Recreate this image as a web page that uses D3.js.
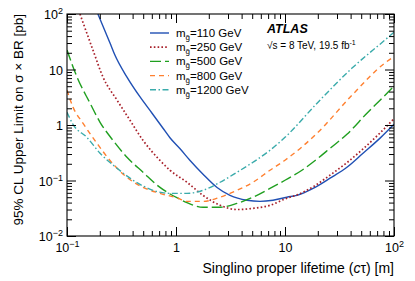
<!DOCTYPE html>
<html><head><meta charset="utf-8">
<script src="https://cdn.jsdelivr.net/npm/d3@7"></script>
<style>
html,body{margin:0;padding:0;background:#fff;}
text{font-family:"Liberation Sans",Arial,Helvetica,sans-serif;}
</style></head>
<body><svg id="c" width="415" height="281"></svg>
<script>
// ---- data ----
const massLabels = ["110", "250", "500", "800", "1200"];

const ctau110 = [0.192,0.248,0.275,0.355,0.468,0.603,0.76,0.88,1.09,1.34,1.77,2.38,3.13,4.48,5.9,7.76,10.4,12.9,18.1,25.9,37,52,74.5,100];
const limit110 = [100,30,18.2,7.3,3.2,1.63,0.875,0.59,0.373,0.232,0.13,0.075,0.054,0.044,0.042,0.044,0.050,0.054,0.072,0.110,0.173,0.31,0.58,1.03];

const ctau250 = [0.1315,0.173,0.214,0.288,0.378,0.498,0.713,0.881,1.26,1.77,2.54,3.63,5.08,7.28,10.4,12.9,18.1,25.9,37,52,74.5,100];
const limit250 = [100,22.4,7.3,2.8,1.22,0.53,0.23,0.153,0.093,0.054,0.0357,0.030,0.0315,0.0357,0.048,0.055,0.077,0.125,0.21,0.37,0.72,1.3];

const ctau500 = [0.1,0.1236,0.1626,0.201,0.264,0.355,0.498,0.713,1.04,1.26,1.77,2.54,3.63,5.08,7.28,10,14.3,20.1,25.9,37,56.5,74.5,100];
const limit500 = [22.4,7.3,2.48,1.12,0.53,0.262,0.141,0.075,0.048,0.040,0.033,0.033,0.0387,0.050,0.072,0.101,0.153,0.252,0.38,0.68,1.63,2.8,5.0];

const ctau800 = [0.1,0.1135,0.140,0.188,0.248,0.355,0.498,0.713,1.04,1.26,1.77,2.54,3.63,5.08,7.28,10,20.1,41.2,82.6,100];
const limit800 = [4.25,2.1,1.08,0.47,0.23,0.114,0.075,0.0587,0.048,0.042,0.042,0.050,0.0665,0.093,0.153,0.232,0.74,3.45,13.1,17];

const ctau1200 = [0.1,0.1135,0.152,0.201,0.288,0.404,0.616,0.881,1.26,1.77,2.54,3.63,5.08,7.28,10,20.1,41.2,82.6,100];
const limit1200 = [1.70,1.03,0.60,0.31,0.166,0.101,0.0665,0.0587,0.0587,0.0665,0.093,0.141,0.213,0.35,0.60,2.58,10.6,34,47];

const xMajor = [0.1, 1, 10, 100];
const xMajorLabels = [["10","-1"],["1",""],["10",""],["10","2"]];
const yMajor = [0.01, 0.1, 1, 10, 100];
const yMajorLabels = [["10","-2"],["10","-1"],["1",""],["10",""],["10","2"]];

// ---- layout ----
const L = 67, R = 394, T = 14, B = 236;
const svg = d3.select("#c");
const x = d3.scaleLog().domain([0.1, 100]).range([L, R]);
const y = d3.scaleLog().domain([0.01, 100]).range([B, T]);

function minors(lo, hi) {
  const out = [];
  for (let e = Math.log10(lo); e < Math.log10(hi); e++) {
    for (let k = 2; k <= 9; k++) out.push(k * Math.pow(10, e));
  }
  return out;
}
const xMinor = minors(0.1, 100), yMinor = minors(0.01, 100);

const series = [
  {m: massLabels[0], xs: ctau110, ys: limit110, color: "#2050b4", dash: null, w: 1.4},
  {m: massLabels[1], xs: ctau250, ys: limit250, color: "#a8202a", dash: "1.6,2.2", w: 1.7},
  {m: massLabels[2], xs: ctau500, ys: limit500, color: "#1f9f1f", dash: "11,4", w: 1.4},
  {m: massLabels[3], xs: ctau800, ys: limit800, color: "#ff8030", dash: "5,4", w: 1.4},
  {m: massLabels[4], xs: ctau1200, ys: limit1200, color: "#3aabab", dash: "6,2.5,1.5,2.5", w: 1.4}
];

svg.append("defs").append("clipPath").attr("id", "clip")
  .append("rect").attr("x", L).attr("y", T).attr("width", R - L).attr("height", B - T);

const line = d3.line().x(d => x(d[0])).y(d => y(d[1])).curve(d3.curveMonotoneX);
const g = svg.append("g").attr("clip-path", "url(#clip)");
series.forEach(s => {
  g.append("path")
    .datum(s.xs.map((v, i) => [v, s.ys[i]]))
    .attr("d", line)
    .attr("fill", "none")
    .attr("stroke", s.color)
    .attr("stroke-width", s.w)
    .attr("stroke-dasharray", s.dash);
});

// ---- axes (ticks inside) ----
function styleAxis(sel) {
  sel.select(".domain").remove();
  sel.selectAll(".tick line").attr("stroke", "#000").attr("stroke-width", 1);
}
function axisPair(make, scale, pos, maj, mn, majLen, minLen) {
  const a1 = svg.append("g").attr("transform", pos)
    .call(make(scale).tickValues(maj).tickSize(-majLen).tickFormat(""));
  const a2 = svg.append("g").attr("transform", pos)
    .call(make(scale).tickValues(mn).tickSize(-minLen).tickFormat(""));
  styleAxis(a1); styleAxis(a2);
  return a1;
}
axisPair(d3.axisBottom, x, `translate(0,${B})`, xMajor, xMinor, 9, 5);
axisPair(d3.axisTop, x, `translate(0,${T})`, xMajor, xMinor, 9, 5);
axisPair(d3.axisLeft, y, `translate(${L},0)`, yMajor, yMinor, 9, 5);
axisPair(d3.axisRight, y, `translate(${R},0)`, yMajor, yMinor, 9, 5);

svg.append("rect").attr("x", L).attr("y", T).attr("width", R - L).attr("height", B - T)
  .attr("fill", "none").attr("stroke", "#000").attr("stroke-width", 1.1);

// tick labels
const xl = svg.append("g").attr("transform", `translate(0,${B})`)
  .call(d3.axisBottom(x).tickValues(xMajor).tickSize(0).tickPadding(0).tickFormat(""));
xl.select(".domain").remove();
xl.selectAll(".tick").each(function(d, i) {
  const t = d3.select(this).append("text").attr("y", 16).attr("fill", "#000")
    .attr("font-size", 12.5).attr("text-anchor", "middle");
  t.append("tspan").text(xMajorLabels[i][0]);
  if (xMajorLabels[i][1]) t.append("tspan").attr("dy", -5).attr("font-size", 9).text(xMajorLabels[i][1].replace("-", "\u2212"));
});
const yl = svg.append("g").attr("transform", `translate(${L},0)`)
  .call(d3.axisLeft(y).tickValues(yMajor).tickSize(0).tickPadding(0).tickFormat(""));
yl.select(".domain").remove();
yl.selectAll(".tick").each(function(d, i) {
  const t = d3.select(this).append("text").attr("x", -4).attr("y", 4.5).attr("fill", "#000")
    .attr("font-size", 12.5).attr("text-anchor", "end");
  t.append("tspan").text(yMajorLabels[i][0]);
  if (yMajorLabels[i][1]) t.append("tspan").attr("dy", -5).attr("font-size", 9).text(yMajorLabels[i][1].replace("-", "\u2212"));
});

// axis titles
const xt = svg.append("text").attr("x", R).attr("y", 273).attr("text-anchor", "end")
  .attr("font-size", 14).attr("fill", "#000");
xt.append("tspan").text("Singlino proper lifetime (");
xt.append("tspan").attr("font-style", "italic").text("c");
xt.append("tspan").text("\u03c4) [m]");

svg.append("text").attr("transform", `translate(23,${T}) rotate(-90)`).attr("text-anchor", "end")
  .attr("font-size", 13.5).attr("fill", "#000").text("95% CL Upper Limit on \u03c3 \u00d7 BR [pb]");

// ATLAS label
svg.append("text").attr("x", 267).attr("y", 33).attr("font-size", 12.5)
  .attr("font-weight", "bold").attr("font-style", "italic").attr("fill", "#000").text("ATLAS");
const en = svg.append("text").attr("x", 267).attr("y", 49).attr("font-size", 10).attr("fill", "#000");
en.append("tspan").text("\u221as = 8 TeV, 19.5 fb");
en.append("tspan").attr("dy", -4).attr("font-size", 7).text("-1");

// legend
const leg = svg.append("g");
series.forEach((s, i) => {
  const yy = 33 + i * 14.2;
  leg.append("line").attr("x1", 150).attr("x2", 169).attr("y1", yy).attr("y2", yy)
    .attr("stroke", s.color).attr("stroke-width", s.w).attr("stroke-dasharray", s.dash);
  const t = leg.append("text").attr("x", 176).attr("y", yy + 4).attr("font-size", 11.5).attr("fill", "#000");
  t.append("tspan").text("m");
  t.append("tspan").attr("dy", 3).attr("font-size", 8).text("g\u0303");
  t.append("tspan").attr("dy", -3).text("=" + s.m + " GeV");
});
</script></body></html>
